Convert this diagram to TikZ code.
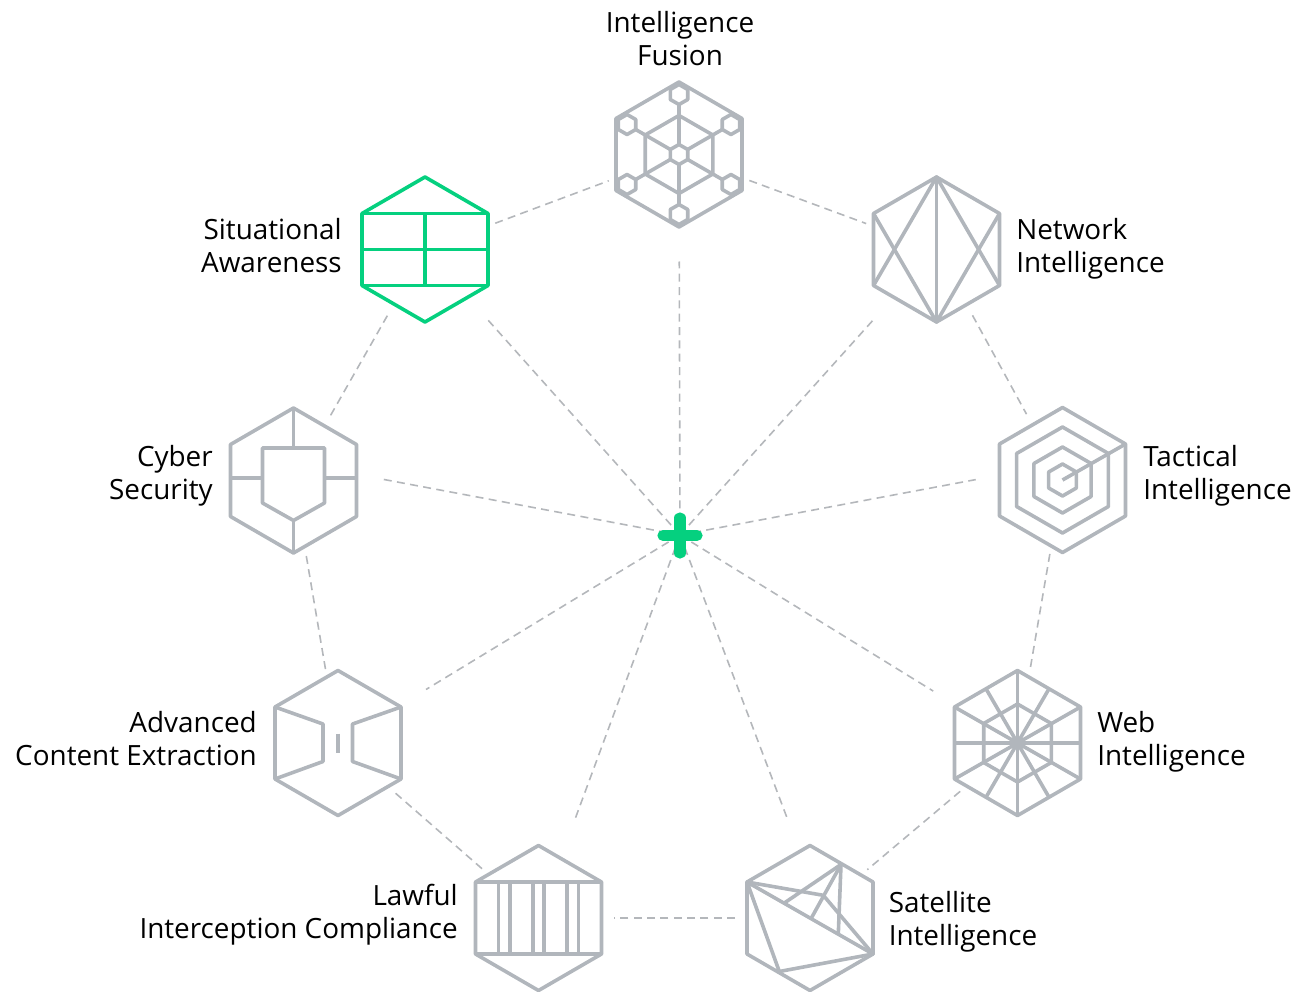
\documentclass[tikz,border=0pt]{standalone}
\usepackage{fontspec}
\setmainfont{Open Sans}
\usetikzlibrary{positioning}
\definecolor{icongray}{HTML}{B1B6BC}
\definecolor{linkgray}{HTML}{B4B7BB}
\definecolor{intelgreen}{HTML}{05D07F}
\tikzset{
  icon/.style={circle, inner sep=0pt, outer sep=0pt, minimum size=112.5pt},
  hubnode/.style={inner sep=0pt, outer sep=0pt, minimum size=0pt},
  lbl/.style={inner sep=0pt, text=black, font=\fontsize{20.9}{24.75}\selectfont},
  link/.style={draw=linkgray, line width=1.2pt, dash pattern=on 6pt off 4pt},
  stroke/.style={draw=icongray, line width=2.7pt, line join=round},
}
\newcommand{\hexframe}{
  (0,-72.5) -- (63,-36) -- (63,36) -- (0,72.5) -- (-63,36) -- (-63,-36) -- cycle
}
\begin{document}
\begin{tikzpicture}[x=0.75pt, y=-0.75pt]
  \useasboundingbox (0,0) rectangle (1299,992);
  % Nodes
  \node[hubnode] (hub) at (680,535) {};
  \node[icon] (fusion) at (679,154.5) {};
  \node[icon] (network) at (936.5,249.5) {};
  \node[icon] (tactical) at (1062.5,480) {};
  \node[icon] (web) at (1017.5,743) {};
  \node[icon] (satellite) at (810,918) {};
  \node[icon] (lawful) at (538.5,918) {};
  \node[icon] (advanced) at (338,743) {};
  \node[icon] (cyber) at (293.5,480.5) {};
  \node[icon] (situational) at (425,249.5) {};
  % Ring
  \draw[link] (fusion) -- (network);
  \draw[link] (network) -- (tactical);
  \draw[link] (tactical) -- (web);
  \draw[link] (web) -- (satellite);
  \draw[link] (satellite) -- (lawful);
  \draw[link] (lawful) -- (advanced);
  \draw[link] (advanced) -- (cyber);
  \draw[link] (cyber) -- (situational);
  \draw[link] (situational) -- (fusion);
  % Spokes
  \draw[link, shorten >=24pt] (hub) -- (fusion);
  \draw[link, shorten >=14.3pt] (hub) -- (network);
  \draw[link, shorten >=9pt] (hub) -- (tactical.178);
  \draw[link, shorten >=18pt] (hub) -- (web);
  \draw[link, shorten >=18.5pt] (hub) -- (satellite.100);
  \draw[link, shorten >=20.3pt] (hub) -- (lawful);
  \draw[link, shorten >=21pt] (hub) -- (advanced);
  \draw[link, shorten >=10.5pt] (hub) -- (cyber.3);
  \draw[link, shorten >=15pt] (hub) -- (situational);
  % Hub cross
  \draw[intelgreen, line width=8.4pt, line cap=round]
    (663,535.5) -- (697,535.5) (680,518) -- (680,553);
  % Intelligence Fusion
  \begin{scope}[shift={(fusion)}]
    \draw[stroke] \hexframe;
    \draw[stroke] (0,-39) -- (33.8,-19.5) -- (33.8,19.5) -- (0,39) -- (-33.8,19.5) -- (-33.8,-19.5) -- cycle;
    \foreach \a in {30,90,...,330} {
      \draw[stroke] (\a:10) -- (\a:50);
      \begin{scope}[shift={(\a:60)}]
        \draw[stroke] (0,-10) -- (8.7,-5) -- (8.7,5) -- (0,10) -- (-8.7,5) -- (-8.7,-5) -- cycle;
      \end{scope}
    }
    \draw[stroke] (0,-10) -- (8.7,-5) -- (8.7,5) -- (0,10) -- (-8.7,5) -- (-8.7,-5) -- cycle;
  \end{scope}
  % Network Intelligence
  \begin{scope}[shift={(network)}]
    \draw[stroke] \hexframe;
    \draw[stroke] (0,-72.5) -- (0,72.5);
    \draw[stroke] (-63,36) -- (0,-72.5) -- (63,36);
    \draw[stroke] (-63,-36) -- (0,72.5) -- (63,-36);
  \end{scope}
  % Tactical Intelligence
  \begin{scope}[shift={(tactical)}]
    \draw[stroke] \hexframe;
    \foreach \r in {53,33,16} {
      \draw[stroke] (0,-\r) -- (0.866*\r,-0.5*\r) -- (0.866*\r,0.5*\r) -- (0,\r) -- (-0.866*\r,0.5*\r) -- (-0.866*\r,-0.5*\r) -- cycle;
    }
    \draw[stroke] (0,0) -- (63,-36);
  \end{scope}
  % Web Intelligence
  \begin{scope}[shift={(web)}]
    \draw[stroke] \hexframe;
    \draw[stroke] (0,-39) -- (33.8,-19.5) -- (33.8,19.5) -- (0,39) -- (-33.8,19.5) -- (-33.8,-19.5) -- cycle;
    \draw[stroke] (0,-72.5) -- (0,72.5);
    \draw[stroke] (-63,-36) -- (63,36);
    \draw[stroke] (-63,36) -- (63,-36);
    \draw[stroke] (-63,0) -- (63,0);
    \draw[stroke] (-31.5,-54.2) -- (31.5,54.2);
    \draw[stroke] (-31.5,54.2) -- (31.5,-54.2);
  \end{scope}
  % Satellite Intelligence
  \begin{scope}[shift={(satellite)}]
    \draw[stroke] \hexframe;
    \draw[stroke] (-63,-36) -- (63,36) -- (-30.7,53.5) -- cycle;
    \draw[stroke] (-63,-36) -- (13.3,-22.7) -- (63,36);
    \draw[stroke] (31,-53.5) -- (-25.7,-15);
    \draw[stroke] (31,-53.5) -- (1,0.7);
    \draw[stroke] (31,-53.5) -- (28.3,16);
  \end{scope}
  % Lawful Interception Compliance
  \begin{scope}[shift={(lawful)}]
    \draw[stroke] \hexframe;
    \draw[stroke] (-63,-36) -- (63,-36);
    \draw[stroke] (-63,36) -- (63,36);
    \foreach \x in {-40,-28.7,-5.7,5.7,28.7,40} {
      \draw[stroke] (\x,-36) -- (\x,36);
    }
  \end{scope}
  % Advanced Content Extraction
  \begin{scope}[shift={(advanced)}]
    \draw[stroke] \hexframe;
    \draw[stroke] (-63,-36) -- (-15,-19) -- (-15,18.5) -- (-63,36);
    \draw[stroke] (63,-36) -- (14.5,-19) -- (14.5,18.5) -- (63,36);
    \draw[stroke] (0,-9.5) -- (0,9.5);
  \end{scope}
  % Cyber Security
  \begin{scope}[shift={(cyber)}]
    \draw[stroke] \hexframe;
    \draw[stroke] (-31,-32.5) -- (31,-32.5) -- (31,22.5) -- (0,40) -- (-31,22.5) -- cycle;
    \draw[stroke] (0,-72.5) -- (0,-32.5);
    \draw[stroke] (0,40) -- (0,72.5);
    \draw[stroke] (-63,-2.5) -- (-31,-2.5);
    \draw[stroke] (31,-2.5) -- (63,-2.5);
  \end{scope}
  % Situational Awareness
  \begin{scope}[shift={(situational)}, stroke/.append style={draw=intelgreen}]
    \draw[stroke] \hexframe;
    \draw[stroke] (-63,-36) -- (63,-36);
    \draw[stroke] (-63,0) -- (63,0);
    \draw[stroke] (-63,36) -- (63,36);
    \draw[stroke] (0,-36) -- (0,36);
  \end{scope}
  % Labels
  \node[lbl, align=center] (fusionlabel) at (680,38.6) {Intelligence\\Fusion};
  \node[lbl, align=left, right] (networklabel) at (1016,249) {Network\\Intelligence};
  \node[lbl, align=left, right] (tacticallabel) at (1143,476) {Tactical\\Intelligence};
  \node[lbl, align=left, right] (weblabel) at (1097,742) {Web\\Intelligence};
  \node[lbl, align=left, right] (satellitelabel) at (888.5,922) {Satellite\\Intelligence};
  \node[lbl, align=right, left] (lawfullabel) at (458,914.4) {Lawful\\Interception Compliance};
  \node[lbl, align=right, left] (advancedlabel) at (257,738.6) {Advanced\\Content Extraction};
  \node[lbl, align=right, left] (cyberlabel) at (213,476) {Cyber\\Security};
  \node[lbl, align=right, left] (situationallabel) at (342,245.6) {Situational\\Awareness};
\end{tikzpicture}
\end{document}
